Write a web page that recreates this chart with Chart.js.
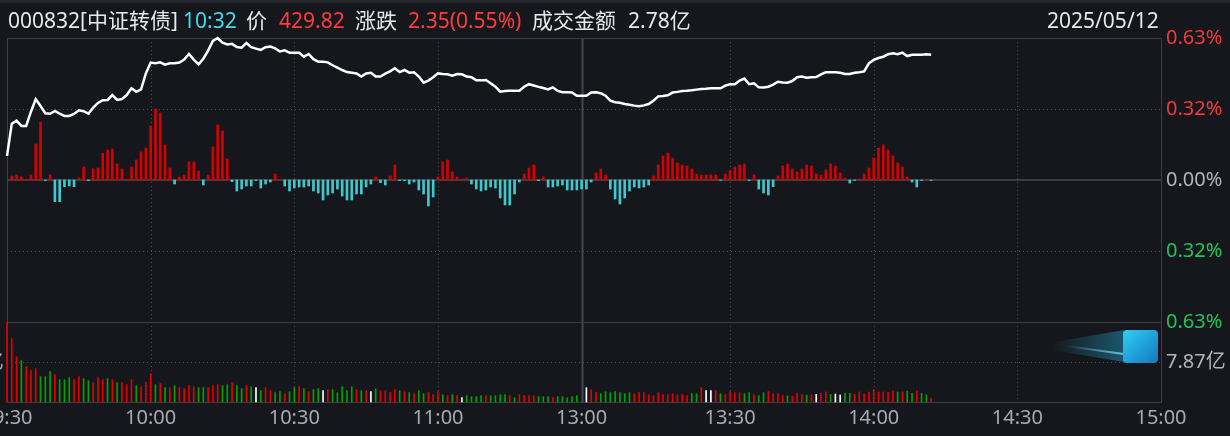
<!DOCTYPE html>
<html>
<head>
<meta charset="utf-8">
<script src="https://cdn.jsdelivr.net/npm/chart.js@4.4.0/dist/chart.umd.min.js"></script>
<style>
  html, body { margin: 0; padding: 0; background: #15171c; }
  #wrap { position: relative; width: 1230px; height: 436px; overflow: hidden; background: #15171c;
          font-family: "Noto Sans", "Noto Sans CJK SC", sans-serif; }
  canvas { position: absolute; left: 0; top: 0; }
  .t { position: absolute; top: 5px; font-size: 21px; line-height: 30px; white-space: pre; color: #e8e8e8; }
  .cy { color: #45d9e6; }
  .rd { color: #ff3b3b; }
  #strip { position: absolute; left: 0; top: 0; width: 1230px; height: 3px; background: #24272d; }
  #fab { position: absolute; left: 1123px; top: 330px; width: 35px; height: 33px; border-radius: 4px;
         background: linear-gradient(135deg, #35cff2 0%, #1f9fd9 55%, #1477bb 100%); }
  #trail { position: absolute; left: 1050px; top: 330px; width: 74px; height: 32px;
           background: linear-gradient(to right, rgba(21,23,28,0), rgba(36,150,190,0.5));
           clip-path: polygon(0 40%, 100% 0, 100% 100%, 0 62%); }
  #streak { position: absolute; left: 1066px; top: 349px; width: 58px; height: 2px;
            background: linear-gradient(to right, rgba(90,210,240,0), rgba(120,225,250,0.8)); transform: rotate(8deg); }
  #leftlab { position: absolute; left: -56px; top: 348px; font-size: 20px; line-height: 28px; color: #b0b4bc; white-space: pre; }
</style>
</head>
<body>
<div id="wrap">
  <div id="strip"></div>
  <canvas id="main" width="1230" height="436"></canvas>
  <canvas id="vol" width="1230" height="436"></canvas>
  <div class="t" style="left:8px">000832[中证转债]</div>
  <div class="t cy" style="left:183px">10:32</div>
  <div class="t" style="left:246px">价</div>
  <div class="t rd" style="left:279px">429.82</div>
  <div class="t" style="left:355px">涨跌</div>
  <div class="t rd" style="left:408px">2.35(0.55%)</div>
  <div class="t" style="left:532px">成交金额</div>
  <div class="t" style="left:628px">2.78亿</div>
  <div class="t" style="left:1047px">2025/05/12</div>
  <div id="leftlab">7.87亿</div>
  <div id="trail"></div>
  <div id="streak"></div>
  <div id="fab"></div>
</div>
<script>
// minute slots: 0 = 09:30 ... 120 = 11:30/13:00 ... 241 = 15:00
const timeTicks = [0, 30, 60, 90, 120, 151, 181, 211, 241];
const timeLabels = ['09:30', '10:00', '10:30', '11:00', '13:00', '13:30', '14:00', '14:30', '15:00'];

const pctTicks = [0.63, 0.315, 0, -0.315, -0.63];
const pctLabels = ['0.63%', '0.32%', '0.00%', '0.32%', '0.63%'];

const volTicks = [7.87];
const volLabels = ['7.87亿'];

// price change in %, one per minute
const linePct = [
  0.107, 0.250, 0.263, 0.240, 0.240, 0.303, 0.359, 0.328, 0.296, 0.294,
  0.306, 0.294, 0.284, 0.284, 0.293, 0.309, 0.305, 0.294, 0.321, 0.342,
  0.354, 0.355, 0.377, 0.355, 0.359, 0.377, 0.407, 0.391, 0.402, 0.473,
  0.521, 0.518, 0.522, 0.512, 0.518, 0.518, 0.521, 0.534, 0.559, 0.534,
  0.513, 0.538, 0.574, 0.617, 0.630, 0.609, 0.601, 0.604, 0.590, 0.587,
  0.608, 0.589, 0.583, 0.577, 0.589, 0.592, 0.584, 0.570, 0.575, 0.565,
  0.565, 0.565, 0.547, 0.559, 0.536, 0.525, 0.525, 0.522, 0.509, 0.499,
  0.488, 0.479, 0.476, 0.473, 0.459, 0.473, 0.476, 0.459, 0.459, 0.472,
  0.482, 0.496, 0.479, 0.488, 0.476, 0.478, 0.459, 0.432, 0.441, 0.456,
  0.473, 0.470, 0.469, 0.463, 0.470, 0.469, 0.459, 0.456, 0.442, 0.442,
  0.444, 0.429, 0.414, 0.392, 0.395, 0.396, 0.396, 0.396, 0.414, 0.425,
  0.419, 0.413, 0.408, 0.402, 0.411, 0.395, 0.389, 0.389, 0.388, 0.374,
  0.374, 0.374, 0.388, 0.389, 0.385, 0.374, 0.352, 0.345, 0.343, 0.337,
  0.334, 0.330, 0.327, 0.331, 0.337, 0.352, 0.371, 0.373, 0.376, 0.388,
  0.391, 0.395, 0.396, 0.398, 0.401, 0.404, 0.405, 0.407, 0.407, 0.407,
  0.419, 0.425, 0.425, 0.441, 0.450, 0.425, 0.429, 0.411, 0.410, 0.414,
  0.423, 0.436, 0.433, 0.432, 0.439, 0.456, 0.459, 0.454, 0.456, 0.457,
  0.469, 0.478, 0.478, 0.478, 0.476, 0.470, 0.470, 0.476, 0.478, 0.482,
  0.518, 0.533, 0.541, 0.547, 0.558, 0.562, 0.558, 0.565, 0.550, 0.556,
  0.556, 0.556, 0.558, 0.556
];

// buy/sell strength bars (red up, cyan down)
const flowBars = [
  0, 4, 5, 3, 0.5, 5, 36, 58, -0.5, 5,
  -21.7, -21.7, -6.7, -6, -6.7, 2, 13, -0.7, 11, 12,
  26.7, 30, 31, 16, 11, 0.7, 13, 20, 28, 32,
  54, 71, 67, 35, 12, -4, 3, 5, 18, 18,
  9, -5, 5, 33, 55, 49, 21, -1.7, -11, -9,
  -6, -6, -0.7, -8, -4, -2, 6, 0.5, -6, -11,
  -8, -7, -7, -6, -11, -13, -20, -15, -13, -9,
  -16, -20, -20, -14, -14, -7, -4, 3, -2.7, -5,
  4, 15, -0.7, -0.7, -4, -2, -10, -14, -26, -17,
  3, 18, 20, 8, 3, 0.5, 2, -4, -9, -11,
  -10, -7, -8, -18, -25, -25, -14, -2, 6, 12,
  15, -0.7, 3, -7, -7, -6, -5, -10, -10, -10,
  -9, -9, -2, 7, 11, 5, -9, -19, -24, -18,
  -11, -7, -8, -7, -5, 4, 15, 24, 27, 22,
  17, 15, 14, 11, 6, 5, 5, 5, 5, -0.5,
  6, 9, 13, 15, 16, -0.5, 5, -9, -13, -15,
  -6.7, 4, 14, 16, 11, 8, 11, 15, 14, 6,
  5, 10, 16, 14, 7, 2, -3, -0.5, 1, 6,
  12, 22, 32, 35, 30, 24, 17, 13, 3, -2,
  -7, -0.5, 0.5, -0.5
];

// turnover per minute, 亿
const volume = [
  15.67, 12.46, 8.92, 8.13, 6.95, 6.16, 6.56, 4.98, 4.98, 5.97,
  5.38, 4.39, 4.39, 4.79, 4.39, 4.98, 4.59, 4.20, 3.80, 4.79,
  4.39, 4.59, 4.39, 3.80, 3.80, 3.41, 4.39, 3.21, 3.02, 3.80,
  5.51, 3.41, 3.61, 2.82, 2.82, 3.21, 2.82, 2.62, 3.21, 3.02,
  2.82, 2.82, 2.82, 3.21, 3.41, 3.21, 3.41, 3.80, 3.21, 2.62,
  3.21, 3.02, 2.82, 2.23, 2.82, 2.23, 1.84, 2.03, 1.64, 2.03,
  2.82, 3.02, 2.62, 2.03, 2.43, 2.62, 2.23, 2.43, 2.43, 1.84,
  3.02, 2.23, 3.02, 2.43, 2.23, 2.23, 2.03, 2.62, 2.23, 2.23,
  1.84, 2.43, 2.23, 2.03, 1.84, 1.64, 2.23, 1.64, 1.84, 1.44,
  2.03, 1.44, 1.25, 1.44, 1.25, 0.85, 1.25, 1.05, 1.05, 1.25,
  1.25, 1.25, 1.25, 1.44, 1.44, 1.25, 0.85, 1.44, 1.25, 1.25,
  1.25, 1.05, 1.05, 1.05, 0.85, 1.05, 1.05, 0.85, 1.05, 1.25,
  0, 2.82, 2.43, 1.84, 1.64, 2.03, 1.84, 2.03, 1.84, 1.64,
  1.84, 1.64, 1.84, 1.84, 1.44, 1.25, 1.84, 1.44, 1.44, 1.64,
  1.44, 1.44, 1.25, 1.64, 1.64, 2.82, 2.23, 2.23, 2.23, 1.64,
  1.44, 2.03, 1.84, 1.84, 1.64, 1.84, 1.44, 1.25, 1.84, 2.03,
  1.64, 1.64, 1.31, 1.18, 1.18, 1.71, 1.51, 1.38, 1.38, 1.51,
  1.71, 1.97, 1.51, 1.57, 1.38, 1.71, 1.71, 1.51, 1.97, 1.57,
  1.97, 2.50, 1.97, 1.97, 1.91, 2.16, 1.97, 1.97, 2.16, 1.71,
  2.16, 1.71, 1.38, 0.79
];

// r = up, g = down, w = flat
const volDir =
  'rrrgrrrggg' + 'rgggrrggrr' + 'rgrgrrrgrr' + 'rgrgrgrrrr' + 'ggrrrggrgg' +
  'rgwgrrggrg' + 'grgrggwrgg' + 'gggrgrwgrr' + 'rrgrgrggrr' + 'rgrgrwgggg' +
  'rggggrgrrr' + 'rgggrggggg' + 'gwrrgggggg' + 'grrrrrrrrr' + 'rrrggrwwrg' +
  'rrrrggrggr' + 'rrrgrrrgrw' + 'rrgwwggrrr' + 'rrrrrrgrgg' + 'rggr';

Chart.defaults.font.family = '"Noto Sans", "Noto Sans CJK SC", sans-serif';
Chart.defaults.font.size = 20;

const breakSlot = timeTicks[timeLabels.indexOf('13:00')];

const panelGrid = {
  id: 'panelGrid',
  beforeDatasetsDraw(chart, args, o) {
    const { ctx, chartArea: a } = chart;
    const xs = chart.scales.x, ys = chart.scales[o.yAxis];
    const seg = (x1, y1, x2, y2, color, dash, w) => {
      ctx.beginPath();
      ctx.setLineDash(dash);
      ctx.strokeStyle = color;
      ctx.lineWidth = w;
      ctx.moveTo(x1, y1);
      ctx.lineTo(x2, y2);
      ctx.stroke();
    };
    ctx.save();
    timeTicks.forEach(t => {
      if (t <= timeTicks[0] || t >= timeTicks[timeTicks.length - 1]) return;
      const px = Math.round(xs.getPixelForValue(t)) + 0.5;
      if (t === breakSlot) seg(px, a.top, px, a.bottom, '#45474d', [], 2);
      else seg(px, a.top, px, a.bottom, '#4c4f56', [1, 3], 1);
    });
    o.dotted.forEach(v => {
      const py = Math.round(ys.getPixelForValue(v)) + 0.5;
      seg(a.left, py, a.right, py, '#4c4f56', [1, 3], 1);
    });
    o.solid.forEach(v => {
      const py = Math.round(ys.getPixelForValue(v));
      seg(a.left, py, a.right, py, '#3c3e44', [], 2);
    });
    ctx.setLineDash([]);
    ctx.strokeStyle = '#3c3e44';
    ctx.lineWidth = 1;
    ctx.strokeRect(Math.round(a.left) + 0.5, Math.round(a.top) + 0.5,
      Math.round(a.right - a.left), Math.round(a.bottom - a.top));
    ctx.restore();
  }
};

const xScale = (show) => ({
  type: 'linear',
  display: show,
  offset: false,
  min: timeTicks[0],
  max: timeTicks[timeTicks.length - 1],
  afterBuildTicks: s => { s.ticks = timeTicks.map(v => ({ value: v })); },
  afterFit: s => {
    s.height = show ? 34 : 0;
    s.paddingLeft = 0;
    s.paddingRight = 0;
  },
  grid: { display: false, drawTicks: false },
  border: { display: false },
  ticks: {
    autoSkip: false, maxRotation: 0, padding: 4, color: '#a6abb3',
    callback: v => timeLabels[timeTicks.indexOf(v)]
  }
});

new Chart(document.getElementById('main'), {
  data: {
    datasets: [
      {
        type: 'line',
        data: linePct.map((v, i) => ({ x: i, y: v })),
        borderColor: '#ffffff',
        borderWidth: 2.5,
        pointRadius: 0,
        tension: 0,
        yAxisID: 'y',
        order: 0,
        clip: 4
      },
      {
        type: 'bar',
        data: flowBars.map((v, i) => ({ x: i, y: v })),
        backgroundColor: flowBars.map(v => v >= 0 ? '#d60000' : '#3ec9cc'),
        barThickness: 2,
        grouped: false,
        yAxisID: 'yb',
        order: 1
      }
    ]
  },
  options: {
    responsive: false,
    animation: false,
    layout: { padding: { left: 7, top: 38, bottom: 114, right: 0 } },
    plugins: {
      legend: { display: false },
      tooltip: { enabled: false },
      panelGrid: { yAxis: 'y', dotted: [0.315, -0.315], solid: [0] }
    },
    scales: {
      x: xScale(false),
      y: {
        position: 'right',
        min: -0.63, max: 0.63,
        afterBuildTicks: s => { s.ticks = pctTicks.map(v => ({ value: v })); },
        afterFit: s => { s.width = 69; },
        grid: { display: false, drawTicks: false },
        border: { display: false },
        ticks: {
          padding: 5,
          callback: v => pctLabels[pctTicks.indexOf(v)],
          color: c => c.tick.value > 0 ? '#f03a3a' : (c.tick.value < 0 ? '#1fc45a' : '#b0b4bc')
        }
      },
      yb: { display: false, min: -142, max: 142 }
    }
  },
  plugins: [panelGrid]
});

const dirColor = { r: '#e40000', g: '#00a300', w: '#ffffff' };

new Chart(document.getElementById('vol'), {
  type: 'bar',
  data: {
    datasets: [{
      data: volume.map((v, i) => ({ x: i, y: v })),
      backgroundColor: volume.map((v, i) => dirColor[volDir[i]]),
      barThickness: 1,
      grouped: false,
      clip: false,
      yAxisID: 'v'
    }]
  },
  options: {
    responsive: false,
    animation: false,
    layout: { padding: { left: 7, top: 322, bottom: 0, right: 0 } },
    plugins: {
      legend: { display: false },
      tooltip: { enabled: false },
      panelGrid: { yAxis: 'v', dotted: volTicks, solid: [] }
    },
    scales: {
      x: xScale(true),
      v: {
        position: 'right',
        min: 0, max: 15.74,
        afterBuildTicks: s => { s.ticks = volTicks.map(v => ({ value: v })); },
        afterFit: s => { s.width = 69; },
        grid: { display: false, drawTicks: false },
        border: { display: false },
        ticks: { padding: 5, color: '#b0b4bc', callback: v => volLabels[volTicks.indexOf(v)] }
      }
    }
  },
  plugins: [panelGrid]
});
</script>
</body>
</html>
